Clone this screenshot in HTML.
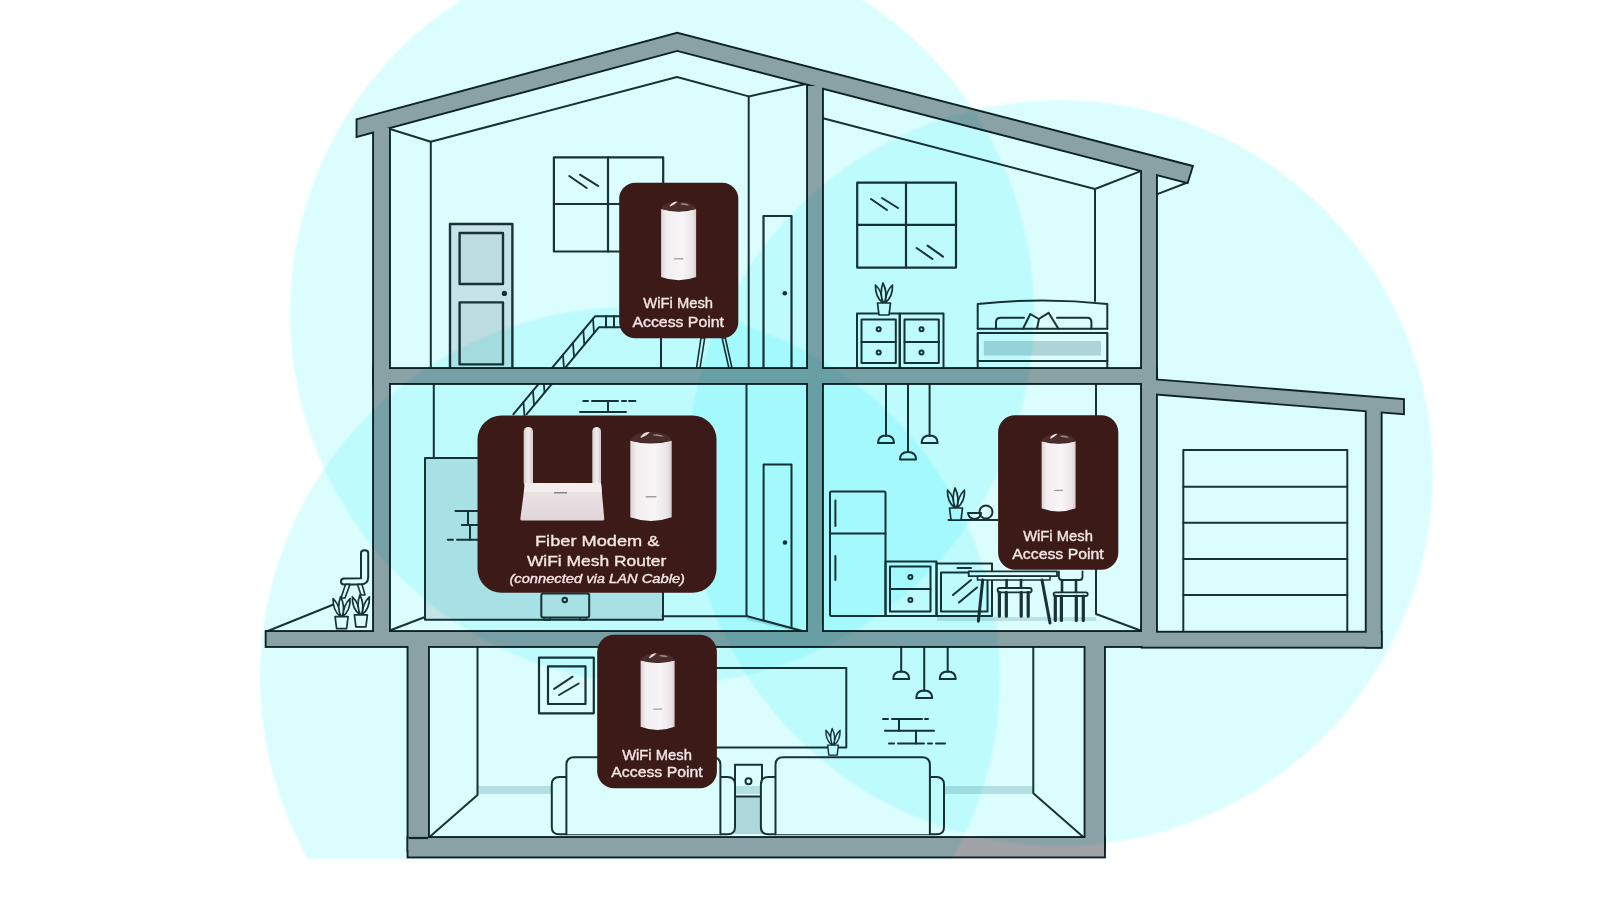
<!DOCTYPE html>
<html><head><meta charset="utf-8">
<style>
html,body{margin:0;padding:0;background:#fff;width:1600px;height:900px;overflow:hidden}
svg{display:block}
.t{font-family:"Liberation Sans",sans-serif;fill:#f3e6e3;stroke:#f3e6e3;stroke-width:0.35;text-anchor:middle}
</style></head>
<body>
<svg width="1600" height="900" viewBox="0 0 1600 900">
<defs>
<clipPath id="clipB"><rect x="0" y="0" width="1600" height="859"/></clipPath>
<linearGradient id="cyl" x1="0" x2="1" y1="0" y2="0">
<stop offset="0" stop-color="#ddd3d6"/><stop offset="0.15" stop-color="#f3eff0"/><stop offset="0.6" stop-color="#f8f5f6"/><stop offset="0.9" stop-color="#ebe4e6"/><stop offset="1" stop-color="#d6cbce"/>
</linearGradient>
<linearGradient id="rtr" x1="0" x2="0" y1="0" y2="1">
<stop offset="0" stop-color="#efe6e8"/><stop offset="1" stop-color="#e0d6d9"/>
</linearGradient>
<linearGradient id="ant" x1="0" x2="1" y1="0" y2="0"><stop offset="0" stop-color="#d8cdd0"/><stop offset="0.5" stop-color="#f2ecee"/><stop offset="1" stop-color="#d5c9cc"/></linearGradient>
<symbol id="plant" viewBox="-12 -22 24 36" overflow="visible">
<g fill="#fff" stroke="#1b3236" stroke-width="1.7" stroke-linejoin="round">
<path d="M-1,1 Q-9,-5 -8.5,-17 Q-2,-11 -1,1 Z"/>
<path d="M1,1 Q9,-5 8.5,-17 Q2,-11 1,1 Z"/>
<path d="M-0.5,1 Q-5,-8 -1,-19 Q4,-9 0.5,1 Z"/>
<path d="M-6.5,1 H6.5 L5,13 H-5 Z"/>
</g>
</symbol>
<filter id="soft" x="-5%" y="-5%" width="110%" height="110%"><feGaussianBlur stdDeviation="1.3"/></filter>
</defs>
<rect width="1600" height="900" fill="#fff"/>

<g id="fills" stroke="none">
<rect x="450" y="224" width="62.4" height="145" fill="#e6e6e8"/>
<rect x="459.6" y="233" width="43.4" height="51" fill="#dcdfe1"/>
<rect x="459.6" y="302.4" width="43.4" height="62" fill="#dcdfe1"/>
<rect x="425" y="458" width="238" height="161.7" fill="#e2e5e7"/>
<rect x="983.8" y="341" width="117.2" height="14.6" fill="#c7d7da"/>
<rect x="735" y="796" width="27" height="38" fill="#c9d9dc"/>
<rect x="477.5" y="786" width="556" height="8" fill="#d2e2e4"/>
<polygon points="808,632 746.5,616 746.5,620 800,632" fill="#d2e2e4"/>
</g>
<g id="lines" fill="none" stroke="#1b3236" stroke-width="2" stroke-linejoin="round" stroke-linecap="round">
<!-- upper left room -->
<polyline points="390,129 430.8,141.7 677,77 748.7,96.4 806,84"/>
<line x1="430.8" y1="141.7" x2="430.8" y2="369"/>
<line x1="748.7" y1="96.4" x2="748.7" y2="369"/>
<rect x="450" y="224" width="62.4" height="146" stroke-width="2.4"/>
<rect x="459.6" y="233" width="43.4" height="51" stroke-width="2.4"/>
<rect x="459.6" y="302.4" width="43.4" height="62" stroke-width="2.4"/>
<circle cx="504.4" cy="293.4" r="2.6" fill="#1b3236" stroke="none"/>
<rect x="553.9" y="157.3" width="109.3" height="94.2" stroke-width="2.2"/>
<line x1="608" y1="157.3" x2="608" y2="251.5" stroke-width="2.2"/>
<line x1="553.9" y1="204" x2="663.2" y2="204" stroke-width="2.2"/>
<line x1="569.3" y1="176" x2="586.7" y2="188"/>
<line x1="580" y1="174.7" x2="598" y2="185.9"/>
<polyline points="513.3,414.3 595,316.3 620,316.3"/>
<polyline points="526.5,414.3 599,327.2 620,327.2"/>
<line x1="606" y1="316.3" x2="606" y2="327.2"/>
<line x1="614" y1="316.3" x2="614" y2="327.2"/>
<line x1="523.5" y1="402.1" x2="524.5" y2="416.7" stroke-width="1.8"/>
<line x1="533.0" y1="390.7" x2="534.0" y2="405.3" stroke-width="1.8"/>
<line x1="543.5" y1="378.1" x2="544.5" y2="392.7" stroke-width="1.8"/>
<line x1="563.0" y1="354.7" x2="564.0" y2="369.2" stroke-width="1.8"/>
<line x1="573.0" y1="342.7" x2="574.0" y2="357.2" stroke-width="1.8"/>
<line x1="583.3" y1="330.3" x2="584.3" y2="344.9" stroke-width="1.8"/>
<line x1="593.0" y1="318.7" x2="594.0" y2="333.2" stroke-width="1.8"/>
<path fill="#fff" stroke-width="1.6" d="M701,338 L696.5,368 L700,368 L704.7,338 Z M722.1,338 L728.9,368 L732,368 L725.3,338 Z"/>
<line x1="661" y1="338" x2="661" y2="369"/>
<rect x="763.5" y="216" width="28" height="153" stroke-width="2.2"/>
<circle cx="784.8" cy="293.3" r="2.3" fill="#1b3236" stroke="none"/>
<!-- upper right room -->
<polyline points="822,118 1095,189 1142,170.6"/>
<line x1="1095" y1="189" x2="1095" y2="301"/>
<polyline points="1156.7,194.4 1185.6,183.3"/>
<rect x="857.2" y="182.7" width="98.8" height="84.9" stroke-width="2.2"/>
<line x1="906" y1="182.7" x2="906" y2="267.6" stroke-width="2.2"/>
<line x1="857.2" y1="224.8" x2="956" y2="224.8" stroke-width="2.2"/>
<line x1="871" y1="199" x2="887" y2="210"/>
<line x1="882" y1="198" x2="898" y2="208"/>
<line x1="916.6" y1="248" x2="932.5" y2="259"/>
<line x1="927.6" y1="245.6" x2="943" y2="256.6"/>
<rect x="857" y="313.5" width="42.5" height="55.5" stroke-width="2"/>
<rect x="900" y="313.5" width="43.5" height="55.5" stroke-width="2"/>
<rect x="861.5" y="319.4" width="34.3" height="22.7" stroke-width="2"/>
<rect x="861.5" y="342.1" width="34.3" height="20.8" stroke-width="2"/>
<rect x="904.5" y="319.4" width="34.3" height="22.7" stroke-width="2"/>
<rect x="904.5" y="342.1" width="34.3" height="20.8" stroke-width="2"/>
<circle cx="878.7" cy="329.2" r="2"/>
<circle cx="878.7" cy="352.4" r="2"/>
<circle cx="921.5" cy="329.2" r="2"/>
<circle cx="921.5" cy="352.4" r="2"/>
<use href="#plant" x="872" y="280" width="24" height="36"/>
<path d="M977.7,328.7 V304 Q1042,297 1107.3,304 V328.7"/>
<path d="M996,328.7 V322 Q996,317.7 1001,317.7 H1024"/><path d="M1023,328.7 L1030.3,314 L1038.8,319 L1048.6,312.8 L1058.4,328.7"/><path d="M1037,328.7 L1039,319"/><path d="M1057,317.7 H1087 Q1091.4,317.7 1091.4,322 V328.7"/>

<line x1="977.7" y1="328.7" x2="1107.3" y2="328.7"/>
<rect x="977.7" y="333" width="129.6" height="28" stroke-width="2.2"/>
<line x1="977.7" y1="361" x2="977.7" y2="369"/>
<line x1="1107.3" y1="361" x2="1107.3" y2="369"/>
<!-- middle left room -->
<line x1="433.8" y1="383" x2="433.8" y2="458"/>
<rect x="425" y="458" width="238" height="161.7" stroke-width="2"/>
<line x1="388.4" y1="631" x2="425" y2="617"/>
<rect x="541.3" y="593.4" width="47.9" height="24" rx="2" stroke-width="2"/>
<circle cx="564.8" cy="600" r="2.2"/>
<path d="M544,618 v2 h6 v-2 M580,618 v2 h6 v-2" stroke-width="1.6"/>
<line x1="583.3" y1="401" x2="588" y2="401"/>
<line x1="592" y1="401" x2="618" y2="401"/>
<line x1="622" y1="401" x2="626" y2="401"/>
<line x1="629" y1="401" x2="635.4" y2="401"/>
<line x1="608" y1="401" x2="608" y2="412"/>
<line x1="580" y1="412" x2="626" y2="412"/>
<line x1="455.5" y1="511" x2="478" y2="511"/>
<line x1="461.8" y1="524.9" x2="478" y2="524.9"/>
<line x1="447.8" y1="539.8" x2="453" y2="539.8"/>
<line x1="457" y1="539.8" x2="478" y2="539.8"/>
<line x1="468" y1="511" x2="468" y2="524.9"/>
<line x1="470" y1="524.9" x2="470" y2="539.8"/>
<polyline points="746.5,383.5 746.5,616 808,632.5"/>
<path d="M763.6,620.5 V464.5 H791.5 V627.3" stroke-width="2"/>
<line x1="662.5" y1="616.3" x2="746.5" y2="616.3"/>
<circle cx="785" cy="542.5" r="2.3" fill="#1b3236" stroke="none"/>
<!-- middle right room -->
<line x1="886" y1="383" x2="886" y2="436"/>
<line x1="908" y1="383" x2="908" y2="452"/>
<line x1="929.6" y1="383" x2="929.6" y2="436"/>
<path d="M878,443 q0,-7.5 8,-7.5 q8,0 8,7.5 z"/>
<path d="M900,459.5 q0,-7.5 8,-7.5 q8,0 8,7.5 z"/>
<path d="M921.6,443 q0,-7.5 8,-7.5 q8,0 8,7.5 z"/>
<rect x="830" y="491.5" width="55.5" height="124.5" rx="1.5" stroke-width="2"/>
<line x1="830" y1="533.5" x2="885.5" y2="533.5"/>
<line x1="835.4" y1="500.5" x2="835.4" y2="526"/>
<line x1="835.4" y1="556" x2="835.4" y2="580"/>
<rect x="885.5" y="561.4" width="51" height="54.6" stroke-width="2"/>
<rect x="890" y="566.5" width="40.5" height="22.5" stroke-width="2"/>
<rect x="890" y="589" width="40.5" height="22.5" stroke-width="2"/>
<circle cx="910.4" cy="577" r="2"/>
<circle cx="910.4" cy="600" r="2"/>
<rect x="936.5" y="563.5" width="55.5" height="52.5" stroke-width="2"/>
<rect x="941" y="572.5" width="46.5" height="39" stroke-width="2"/>
<line x1="957.5" y1="568" x2="971" y2="568"/>
<line x1="953" y1="595" x2="971" y2="580"/>
<line x1="959" y1="602.5" x2="977" y2="587.5"/>
<line x1="948.5" y1="520" x2="998" y2="520"/>
<use href="#plant" x="944" y="485" width="24" height="36"/>
<path d="M968,513 h13 q-1,6 -6.5,6 q-5.5,0 -6.5,-6 z"/>
<circle cx="986" cy="512" r="6.5"/>
<polyline points="1096,383 1096,614 1140.5,630.5"/>
<rect x="937" y="617" width="159" height="4" fill="#d8e4e6" stroke="none"/>
<rect x="968.7" y="571.4" width="88.3" height="4.8" fill="#fff" stroke-width="1.8"/>
<rect x="977.5" y="576.2" width="72.5" height="3.8" fill="#fff" stroke-width="1.6"/>
<path d="M982.7,580 L978.4,621.2 M1042,580 L1050,623" stroke-width="3"/>
<path d="M1006.6,580 v8 M1021,580 v8" stroke-width="2.6"/>
<rect x="997.6" y="588" width="34.1" height="4.4" rx="2.2" fill="#fff" stroke-width="1.8"/>
<path d="M999.4,592.4 V616.2 M1006.3,592.4 V616.2 M1021.2,592.4 V616.2 M1028.2,592.4 V616.2" stroke-width="3.2"/>
<path d="M1058.9,571.4 V577 q0,3 3,3 h17.6 q3,0 3,-3 V571.4" fill="#fff" stroke-width="1.8"/>
<path d="M1062,580 v12.4 M1076,580 v12.4" stroke-width="2.6"/>
<rect x="1053.6" y="592.4" width="34.1" height="3.6" rx="1.8" fill="#fff" stroke-width="1.8"/>
<path d="M1055.3,596 V620.5 M1061.4,596 V620.5 M1076.3,596 V620.5 M1083.3,596 V620.5" stroke-width="3.2"/>
<!-- garage -->
<rect x="1183.3" y="450" width="164" height="182.7" stroke-width="2"/>
<line x1="1183.3" y1="486.7" x2="1347.3" y2="486.7"/>
<line x1="1183.3" y1="522.7" x2="1347.3" y2="522.7"/>
<line x1="1183.3" y1="559" x2="1347.3" y2="559"/>
<line x1="1183.3" y1="595" x2="1347.3" y2="595"/>
<!-- balcony -->
<polyline points="266.6,631.5 336,603.5"/>
<path fill="#fff" d="M361,578.3 V553 q0,-2.7 3.6,-2.7 q3.6,0 3.6,2.7 V577 q0,7.4 -7.4,7.4 H344 q-3,0 -3,-3 q0,-3 3,-3 Z"/>
<path fill="#fff" stroke-width="1.6" d="M345.5,584.4 L341,598 L345,598 L350,584.4 Z"/>
<path fill="#fff" stroke-width="1.6" d="M357.5,584.4 L361,595 L365,595 L362,584.4 Z"/>
<use href="#plant" x="329.6" y="593.6" width="24" height="36"/>
<use href="#plant" x="348.9" y="591.8" width="24" height="36"/>
<!-- basement -->
<polyline points="477.5,646 477.5,795 429.5,837"/>
<polyline points="1033.3,646 1033.3,793.3 1083,836.7"/>
<rect x="539" y="657.6" width="54.8" height="55.7" stroke-width="2.2"/>
<rect x="548" y="666.4" width="37.5" height="37.6" stroke-width="2.2"/>
<line x1="554.2" y1="688.9" x2="572.6" y2="676.7"/>
<line x1="559.1" y1="695" x2="578.7" y2="683.5"/>
<polyline points="700,668 846.3,668 846.3,747.5 700,747.5"/>
<path fill="#fff" d="M566.4,777 h-7 q-7.6,0 -7.6,7.6 V827 q0,7.3 7.3,7.3 H727.7 q7.3,0 7.3,-7.3 V784.6 q0,-7.6 -7.6,-7.6 h-7"/>
<path fill="#fff" d="M566.4,834.3 V765 q0,-7.7 7.7,-7.7 H712.7 q7.7,0 7.7,7.7 V834.3"/>
<rect x="735" y="764.7" width="27" height="31.7" stroke-width="2"/>
<circle cx="748.5" cy="781.3" r="3"/>
<path fill="#fff" d="M775.5,777 h-7 q-7.6,0 -7.6,7.6 V827 q0,7.3 7.3,7.3 H936.7 q7.3,0 7.3,-7.3 V784.6 q0,-7.6 -7.6,-7.6 h-7"/>
<path fill="#fff" d="M775.5,834.3 V765 q0,-7.7 7.7,-7.7 H922.2 q7.7,0 7.7,7.7 V834.3"/>
<use href="#plant" x="821" y="726" width="24" height="30" preserveAspectRatio="none"/>
<line x1="901.2" y1="646" x2="901.2" y2="672"/>
<line x1="924.2" y1="646" x2="924.2" y2="691"/>
<line x1="947.7" y1="646" x2="947.7" y2="672"/>
<path d="M893.2,679 q0,-7.5 8,-7.5 q8,0 8,7.5 z"/>
<path d="M916.2,698 q0,-7.5 8,-7.5 q8,0 8,7.5 z"/>
<path d="M939.7,679 q0,-7.5 8,-7.5 q8,0 8,7.5 z"/>
<path d="M883,719 h5 M892,719 h30 M925,719 h3" />
<path d="M885,730.7 h49"/>
<path d="M889,743.5 h5 M898,743.5 h26 M928,743.5 h4 M936,743.5 h9"/>
<path d="M899,719 v11.7 M916,730.7 v12.8"/>
</g>

<!-- HOUSE STRUCTURE -->
<g id="walls">
<g id="wallshapes" stroke="#102326" stroke-width="3.8" stroke-linejoin="miter" fill="#a0a3a7">
<polygon points="357.5,120 677.2,33.8 1191.7,166.7 1187,182 677.2,50 357.5,135.8"/>
<rect x="374" y="128" width="15" height="512"/>
<rect x="808" y="86" width="14" height="554"/>
<rect x="1142" y="165" width="14" height="481"/>
<rect x="374" y="369" width="782" height="14"/>
<rect x="266.6" y="632" width="889.4" height="14"/>
<rect x="408.5" y="640" width="19.5" height="210"/>
<rect x="1085.5" y="640" width="18.5" height="210"/>
<rect x="408.5" y="838" width="695.5" height="18.5"/>
<polygon points="1142.7,379.3 1403,400 1403,413.3 1142.7,392.5"/>
<rect x="1366.7" y="400" width="14" height="246.7"/>
<rect x="1142.7" y="632.7" width="238" height="14"/>
</g>
<g fill="#a0a3a7">
<polygon points="357.5,120 677.2,33.8 1191.7,166.7 1187,182 677.2,50 357.5,135.8"/>
<rect x="374" y="128" width="15" height="512"/>
<rect x="808" y="86" width="14" height="554"/>
<rect x="1142" y="165" width="14" height="481"/>
<rect x="374" y="369" width="782" height="14"/>
<rect x="266.6" y="632" width="889.4" height="14"/>
<rect x="408.5" y="640" width="19.5" height="210"/>
<rect x="1085.5" y="640" width="18.5" height="210"/>
<rect x="408.5" y="838" width="695.5" height="18.5"/>
<polygon points="1142.7,379.3 1403,400 1403,413.3 1142.7,392.5"/>
<rect x="1366.7" y="400" width="14" height="246.7"/>
<rect x="1142.7" y="632.7" width="238" height="14"/>
</g>
</g>

<line x1="408.5" y1="838" x2="428" y2="838" stroke="#102326" stroke-width="2.2"/>
<!-- CIRCLES -->
<g style="mix-blend-mode:multiply" fill="#dcfdfe" filter="url(#soft)">
<circle cx="662" cy="313" r="372" style="mix-blend-mode:multiply"/>
<circle cx="1060" cy="473" r="373" style="mix-blend-mode:multiply"/>
<circle cx="630" cy="677" r="370" clip-path="url(#clipB)" style="mix-blend-mode:multiply"/>
</g>

<!-- DEVICE BOXES -->
<g id="boxes" fill="#3b1a18">
<rect x="619.2" y="182.8" width="119.1" height="155.5" rx="16"/>
<rect x="477.5" y="415.5" width="239" height="177.3" rx="24"/>
<rect x="998.1" y="415.3" width="120.2" height="154.4" rx="17"/>
<rect x="597.2" y="634.7" width="119.7" height="153.6" rx="17"/>
</g>
<symbol id="cylS" viewBox="0 0 36 81" preserveAspectRatio="none">
<path d="M0.5,8.5 Q18,13.5 35.5,8.5 V75.5 Q18,82 0.5,75.5 Z" fill="url(#cyl)"/>
<path d="M0.8,8.5 Q2,1.5 18,1.2 Q34,1.5 35.2,8.5 Q18,12.5 0.8,8.5 Z" fill="#4a2c2b"/>
<path d="M9,5.5 Q12,0.5 17,1 Q15,3.5 10,6 Z" fill="#e8dcdc"/>
<path d="M20,3 Q26,2 29,5 Q25,5 20,4 Z" fill="#9c8585"/>
<rect x="13.5" y="57" width="9" height="1.2" fill="#a09498"/>
</symbol>
<use href="#cylS" x="660.6" y="200.5" width="36.1" height="82"/>
<use href="#cylS" x="629.7" y="431" width="42.6" height="92.5"/>
<use href="#cylS" x="1041.1" y="432.8" width="35" height="81"/>
<use href="#cylS" x="640.1" y="652.2" width="35" height="80"/>
<g id="router">
<rect x="523.7" y="427" width="9.3" height="60" rx="4.6" fill="url(#ant)"/>
<rect x="592.3" y="427" width="8.7" height="60" rx="4.3" fill="url(#ant)"/>
<path d="M525,483 H601 L604.3,519 Q604.3,520.5 602.5,520.5 H522 Q520.3,520.5 520.3,519 Z" fill="url(#rtr)"/>
<path d="M525,483 H601 L602,492 H523.8 Z" fill="#f3eded"/>
<rect x="554" y="492" width="13" height="1.5" fill="#8e8284"/>
</g>
<g class="t" font-size="13.8">
<text x="678.2" y="308.4" textLength="69.7" lengthAdjust="spacingAndGlyphs">WiFi Mesh</text>
<text x="678.2" y="326.75" textLength="91.5" lengthAdjust="spacingAndGlyphs">Access Point</text>
<text x="1058" y="541.2" textLength="69.7" lengthAdjust="spacingAndGlyphs">WiFi Mesh</text>
<text x="1058" y="558.6" textLength="91.5" lengthAdjust="spacingAndGlyphs">Access Point</text>
<text x="657" y="759.8" textLength="69.7" lengthAdjust="spacingAndGlyphs">WiFi Mesh</text>
<text x="657" y="777.2" textLength="91.5" lengthAdjust="spacingAndGlyphs">Access Point</text>
<text x="597.2" y="545.6" font-size="15.4" textLength="124.4" lengthAdjust="spacingAndGlyphs">Fiber Modem &amp;</text>
<text x="596.6" y="565.6" font-size="15.4" textLength="139.4" lengthAdjust="spacingAndGlyphs">WiFi Mesh Router</text>
<text x="597.2" y="582.5" font-size="12.2" font-style="italic" textLength="175.6" lengthAdjust="spacingAndGlyphs">(connected via LAN Cable)</text>
</g>
</svg>
</body></html>
